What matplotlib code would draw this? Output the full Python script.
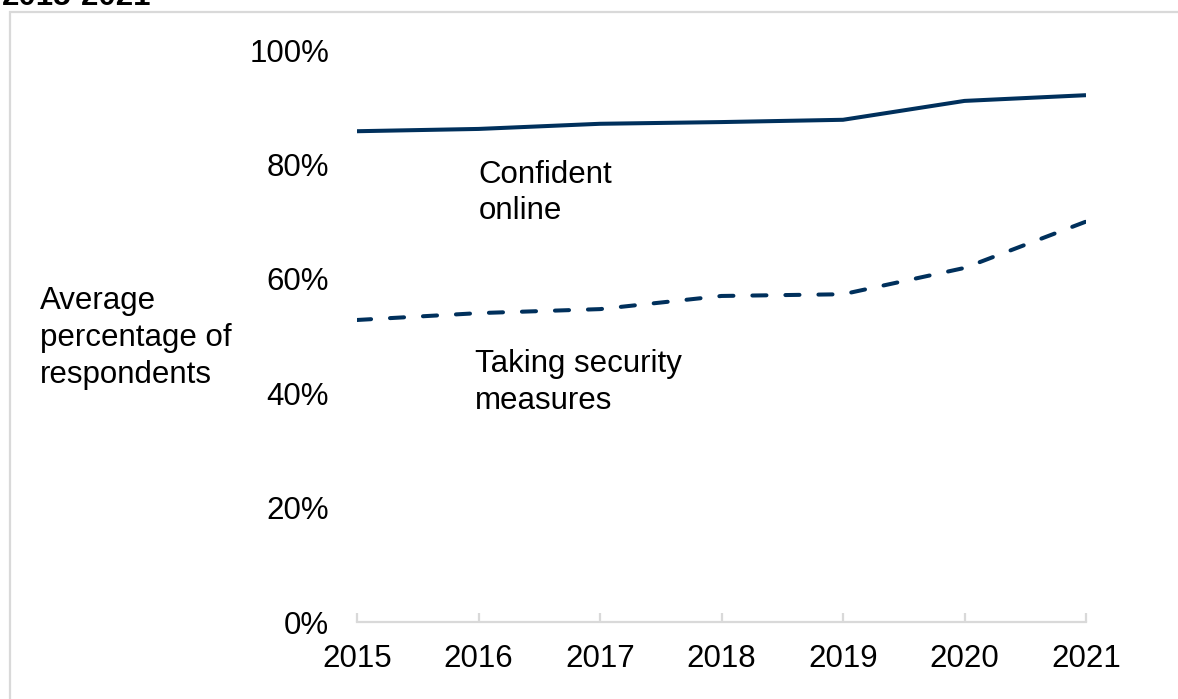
import matplotlib
matplotlib.use("Agg")
import matplotlib.pyplot as plt
from matplotlib.patches import Rectangle
from matplotlib.ticker import FuncFormatter

plt.rcParams['font.family'] = ['Liberation Sans', 'DejaVu Sans']

years = [2015, 2016, 2017, 2018, 2019, 2020, 2021]
confident_online = [85.8, 86.2, 87.1, 87.4, 87.8, 91.1, 92.1]
security_measures = [52.8, 54.0, 54.7, 57.0, 57.3, 61.9, 70.0]
y_ticks = [0, 20, 40, 60, 80, 100]

navy = '#00305c'
grey = '#d9d9d9'
fs = 22.5
ls = 1.3

W, H = 1178, 699
fig = plt.figure(figsize=(W / 100, H / 100), dpi=100)

# Light frame around the chart area (open to the right and bottom)
fig.patches.append(Rectangle((10 / W, -0.1), 1.2, 1 - 12 / H + 0.1,
                             transform=fig.transFigure, fill=False,
                             edgecolor=grey, linewidth=1.6, zorder=0))

# Title, partly above the top edge
fig.text(2 / W, 1 - 5 / H, '2015-2021', fontsize=fs, fontweight='bold',
         ha='left', va='baseline')

ax = fig.add_axes([357 / W, (H - 622) / H, (1086 - 357) / W, (622 - 50) / H])

ax.plot(years, confident_online, color=navy, linewidth=2.9,
        solid_capstyle='butt')
ax.plot(years, security_measures, color=navy, linewidth=2.9,
        dashes=(3.5, 4.7), dash_capstyle='round')

ax.set_xlim(2015, 2021)
ax.set_ylim(0, 100)
ax.set_xticks(years)
ax.set_yticks(y_ticks)
ax.yaxis.set_major_formatter(FuncFormatter(lambda v, _: f'{v:.0f}%'))

for s in ['top', 'right', 'left']:
    ax.spines[s].set_visible(False)
ax.spines['bottom'].set_color(grey)
ax.spines['bottom'].set_linewidth(1.6)

ax.tick_params(axis='x', direction='in', length=6.5, width=1.6, color=grey,
               labelsize=fs, pad=16)
ax.tick_params(axis='y', length=0, labelsize=fs, pad=20)
ax.set_facecolor('none')

ax.text(2016.0, 75.0, 'Confident\nonline', fontsize=fs, ha='left',
        va='center', linespacing=ls)
ax.text(2015.97, 41.8, 'Taking security\nmeasures', fontsize=fs, ha='left',
        va='center', linespacing=ls)

fig.text(40 / W, 1 - 338 / H, 'Average\npercentage of\nrespondents',
         fontsize=fs, ha='left', va='center', linespacing=ls)

fig.savefig('out.png', dpi=100)
